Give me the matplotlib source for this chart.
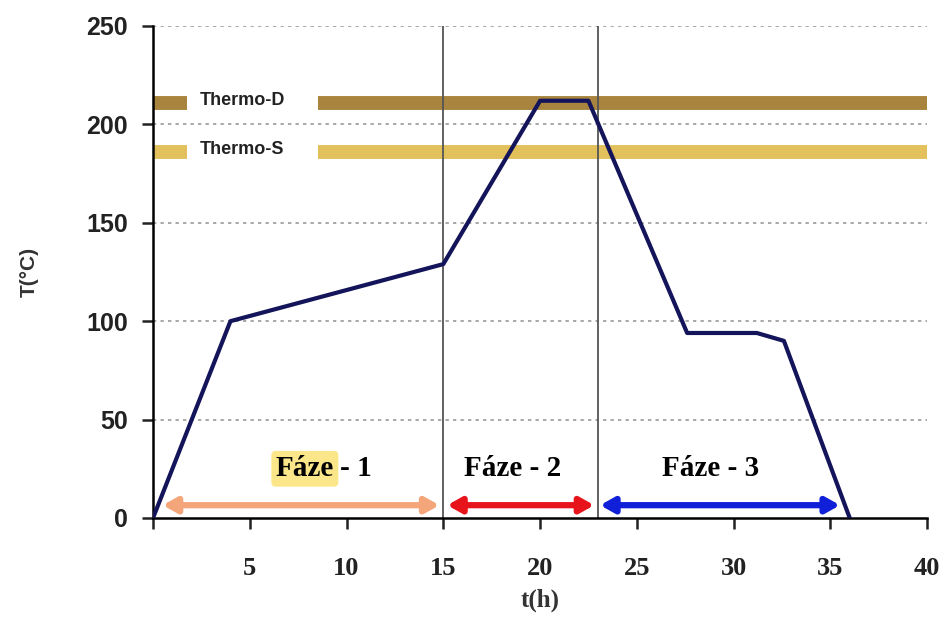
import matplotlib.pyplot as plt

# temperature profile
t_h = [0, 4, 15, 20, 22.5, 27.6, 31.2, 32.6, 36]
temp_c = [0, 100, 129, 212, 212, 94, 94, 90, 0]

# phase boundaries and arrows
phase_lines = [15, 23]
phase_names = ["1", "2", "3"]
phase_start = [0.5, 15.2, 23.1]
phase_end = [14.8, 22.8, 35.5]
phase_colors = ["#F4A57A", "#E8141B", "#1020D8"]
phase_label_x = [9.9, 18.6, 28.8]

# thermo bands
band_names = ["Thermo-D", "Thermo-S"]
band_temps = [211, 186]
band_colors = ["#A8843E", "#E2C05C"]

x_ticks = [0, 5, 10, 15, 20, 25, 30, 35, 40]
x_ticklabels = ["", "5", "10", "15", "20", "25", "30", "35", "40"]
y_ticks = [0, 50, 100, 150, 200, 250]

plt.rcParams['font.family'] = ['Liberation Sans', 'DejaVu Sans']
serif = ['Liberation Serif', 'DejaVu Serif']

fig = plt.figure(figsize=(9.47, 6.29), dpi=100)
ax = fig.add_axes([0.1616, 0.1765, 0.8174, 0.7822])

for y in y_ticks[1:]:
    ax.axhline(y, color="#9a9a9a", lw=1.2, ls=(0, (2, 2.5)), zorder=0)

for name, tv, col in zip(band_names, band_temps, band_colors):
    ax.plot([0, 1.75], [tv, tv], color=col, lw=10, solid_capstyle='butt', zorder=1)
    ax.plot([8.5, 40], [tv, tv], color=col, lw=10, solid_capstyle='butt', zorder=1)
    ax.text(2.4, tv + 1, name, fontsize=13, fontweight='bold', color="#222222",
            va='center', ha='left')

for xv in phase_lines:
    ax.axvline(xv, color="#555555", lw=1.3, zorder=2)

ax.plot(t_h, temp_c, color="#14145A", lw=3, zorder=3)

for s, e, c in zip(phase_start, phase_end, phase_colors):
    ax.annotate("", xy=(e, 6.5), xytext=(s, 6.5),
                arrowprops=dict(arrowstyle='<|-|>,head_length=0.8,head_width=0.45',
                                color=c, lw=4.5, shrinkA=0, shrinkB=0), zorder=4)

for i, (name, lx) in enumerate(zip(phase_names, phase_label_x)):
    if i == 0:
        ax.text(lx - 0.55, 25, "Fáze", family=serif, fontsize=21, fontweight='bold',
                ha='right', va='center',
                bbox=dict(boxstyle='round,pad=0.15', fc="#FCE68A", ec='none'))
        ax.text(lx - 0.25, 25, "- " + name, family=serif, fontsize=21,
                fontweight='bold', ha='left', va='center')
    else:
        ax.text(lx, 25, "Fáze - " + name, family=serif, fontsize=21,
                fontweight='bold', ha='center', va='center')

ax.set_xlim(0, 40)
ax.set_ylim(0, 250)
ax.set_xticks(x_ticks)
ax.set_xticklabels(x_ticklabels)
ax.set_yticks(y_ticks)
ax.tick_params(width=1.8, length=8, colors="#222222")
ax.tick_params(axis='x', labelsize=19, pad=20)
ax.tick_params(axis='y', labelsize=18, pad=10)
for lab in ax.get_xticklabels():
    lab.set_fontweight('bold')
    lab.set_family(serif)
for lab in ax.get_yticklabels():
    lab.set_fontweight('bold')
ax.spines['top'].set_visible(False)
ax.spines['right'].set_visible(False)
ax.spines['left'].set_linewidth(1.8)
ax.spines['bottom'].set_linewidth(1.8)
ax.set_xlabel("t(h)", family=serif, fontsize=18, fontweight='bold', labelpad=6,
              color="#333333")
ax.set_ylabel("T(°C)", fontsize=15, fontweight='bold', labelpad=34, color="#333333")

fig.savefig("out.png", dpi=100)
